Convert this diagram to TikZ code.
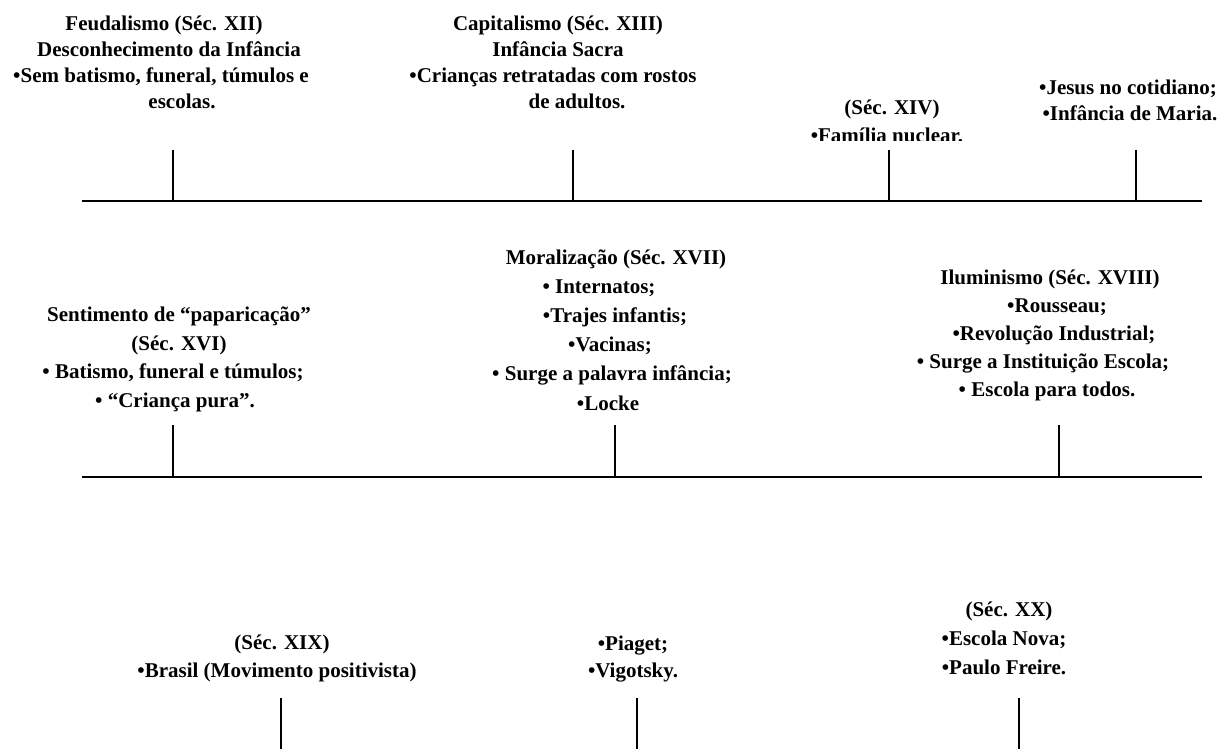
\documentclass[tikz,border=0pt]{standalone}
\usepackage{fontspec}
\setmainfont{Liberation Serif}
\begin{document}
\begin{tikzpicture}[x=1pt,y=-1pt,
  txt/.style={anchor=base,inner sep=0pt,font=\bfseries\fontsize{21}{25}\selectfont},
  axis/.style={line width=1.8pt},
  tickline/.style={line width=1.8pt}]
\useasboundingbox (0,0) rectangle (1224,749);
% ---------- row 1 ----------
\node[txt] (f1) at (164,31) {Feudalismo (Séc. XII)};
\node[txt] (f2) at (169,57) {Desconhecimento da Infância};
\node[txt] (f3) at (161,83) {•Sem batismo, funeral, túmulos e};
\node[txt] (f4) at (182,109) {escolas.};
\node[txt] (c1) at (558,31) {Capitalismo (Séc. XIII)};
\node[txt] (c2) at (558,57) {Infância Sacra};
\node[txt] (c3) at (553,83) {•Crianças retratadas com rostos};
\node[txt] (c4) at (577,109) {de adultos.};
\node[txt] (s1) at (892,115) {(Séc. XIV)};
\begin{scope}
\clip (780,0) rectangle (1000,141);
\node[txt] (s2) at (887,143) {•Família nuclear.};
\end{scope}
\node[txt] (j1) at (1128,95) {•Jesus no cotidiano;};
\node[txt] (j2) at (1130,121) {•Infância de Maria.};
\coordinate (a1s) at (82,201);
\coordinate (a1e) at (1202,201);
\draw[axis] (a1s) -- (a1e);
\foreach \n/\x in {t1/173,t2/573,t3/889,t4/1136}{
  \coordinate (\n top) at (\x,150);
  \coordinate (\n bot) at (\x,201);
  \draw[tickline] (\n top) -- (\n bot);
}
% ---------- row 2 ----------
\node[txt] (p1) at (179,321) {Sentimento de “paparicação”};
\node[txt] (p2) at (179,350) {(Séc. XVI)};
\node[txt] (p3) at (173,378) {• Batismo, funeral e túmulos;};
\node[txt] (p4) at (175,407) {• “Criança pura”.};
\node[txt] (m1) at (616,264) {Moralização (Séc. XVII)};
\node[txt] (m2) at (599,293) {• Internatos;};
\node[txt] (m3) at (615,322) {•Trajes infantis;};
\node[txt] (m4) at (610,351) {•Vacinas;};
\node[txt] (m5) at (612,380) {• Surge a palavra infância;};
\node[txt] (m6) at (608,410) {•Locke};
\node[txt] (i1) at (1050,284) {Iluminismo (Séc. XVIII)};
\node[txt] (i2) at (1057,312) {•Rousseau;};
\node[txt] (i3) at (1054,340) {•Revolução Industrial;};
\node[txt] (i4) at (1043,368) {• Surge a Instituição Escola;};
\node[txt] (i5) at (1047,396) {• Escola para todos.};
\coordinate (a2s) at (82,477);
\coordinate (a2e) at (1202,477);
\draw[axis] (a2s) -- (a2e);
\foreach \n/\x in {u1/173,u2/615,u3/1059}{
  \coordinate (\n top) at (\x,425);
  \coordinate (\n bot) at (\x,477);
  \draw[tickline] (\n top) -- (\n bot);
}
% ---------- row 3 ----------
\node[txt] (b1) at (282,649) {(Séc. XIX)};
\node[txt] (b2) at (277,677) {•Brasil (Movimento positivista)};
\node[txt] (v1) at (633,650) {•Piaget;};
\node[txt] (v2) at (633,677) {•Vigotsky.};
\node[txt] (x1) at (1009,616) {(Séc. XX)};
\node[txt] (x2) at (1004,645) {•Escola Nova;};
\node[txt] (x3) at (1004,674) {•Paulo Freire.};
\foreach \n/\x in {w1/281,w2/637,w3/1019}{
  \coordinate (\n top) at (\x,698);
  \coordinate (\n bot) at (\x,752);
  \draw[tickline] (\n top) -- (\n bot);
}
\end{tikzpicture}
\end{document}
